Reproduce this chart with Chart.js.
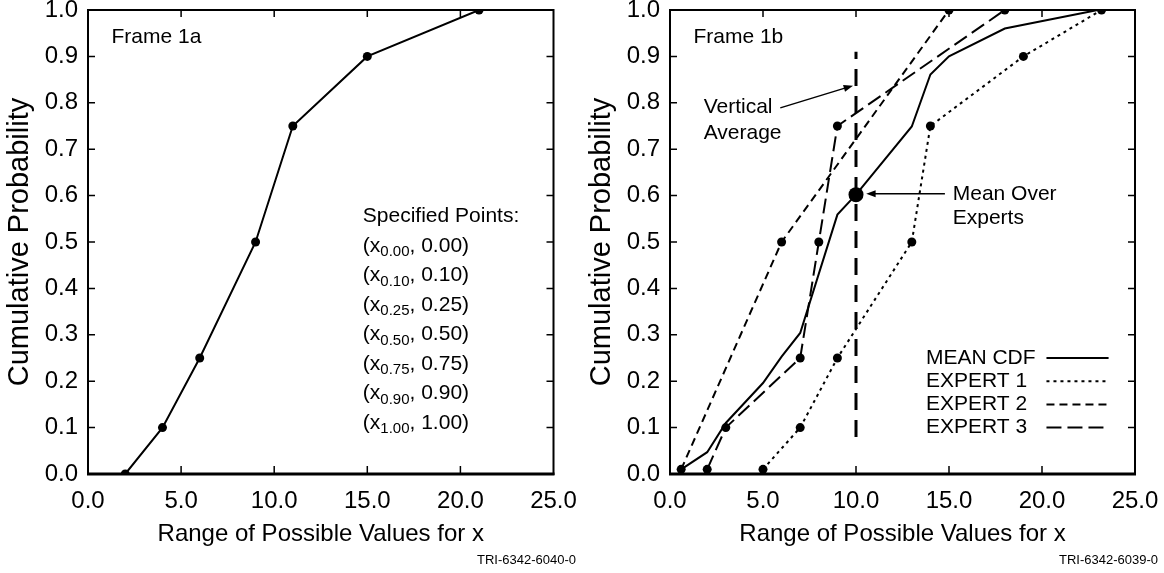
<!DOCTYPE html>
<html>
<head>
<meta charset="utf-8">
<script src="https://cdn.jsdelivr.net/npm/chart.js@4"></script>
<style>
body { margin: 0; background: #fff; width: 1164px; height: 573px; overflow: hidden; }
.box { position: absolute; top: 0; width: 582px; height: 573px; }
</style>
</head>
<body>
<div class="box" style="left:0"><canvas id="frame1a"></canvas></div>
<div class="box" style="left:582px"><canvas id="frame1b"></canvas></div>
<script>
var xTicks = [0, 5, 10, 15, 20, 25]
var yTicks = [0, 0.1, 0.2, 0.3, 0.4, 0.5, 0.6, 0.7, 0.8, 0.9, 1.0]

// Frame 1a: the specified quantile points
var pointX = [2, 4, 6, 9, 11, 15, 21]
var pointY = [0, 0.1, 0.25, 0.5, 0.75, 0.9, 1.0]
var quantiles = ['0.00', '0.10', '0.25', '0.50', '0.75', '0.90', '1.00']

// Frame 1b: three experts and the mean CDF
var meanX = [0.6, 2, 3, 5, 6, 7, 9, 10, 13, 14, 15, 18, 23]
var meanY = [0.01, 0.047, 0.11, 0.196, 0.253, 0.304, 0.559, 0.602, 0.749, 0.861, 0.9, 0.96, 1.0]
var expert1X = [5, 7, 9, 13, 14, 19, 23.2]
var expert1Y = [0.01, 0.1, 0.25, 0.5, 0.75, 0.9, 1.0]
var expert2X = [0.6, 6, 15]
var expert2Y = [0.01, 0.5, 1.0]
var expert3X = [2, 3, 7, 8, 9, 18]
var expert3Y = [0.01, 0.1, 0.25, 0.5, 0.75, 1.0]
var vertX = [10, 10]
var vertY = [0.08, 0.91]

var FONT = "'Liberation Sans', Arial, Helvetica, sans-serif"

function xy(xs, ys) {
    return xs.map(function (x, i) { return { x: x, y: ys[i] } })
}

function noPad(s) {
    s.paddingTop = 0; s.paddingBottom = 0; s.paddingLeft = 0; s.paddingRight = 0
}

function makeScales() {
    return {
        x: {
            type: 'linear', min: 0, max: 25,
            afterBuildTicks: function (s) { s.ticks = xTicks.map(function (v) { return { value: v } }) },
            afterFit: function (s) { s.height = 99; noPad(s) },
            grid: { display: false, drawTicks: false },
            border: { display: false },
            ticks: {
                color: '#000', padding: 13, maxRotation: 0, autoSkip: false,
                font: { family: FONT, size: 24 },
                callback: function (v) { return v.toFixed(1) }
            },
            title: {
                display: true, text: 'Range of Possible Values for x', color: '#000',
                font: { family: FONT, size: 24 }, padding: { top: 0, bottom: 24 }
            }
        },
        y: {
            type: 'linear', min: 0, max: 1,
            afterBuildTicks: function (s) { s.ticks = yTicks.map(function (v) { return { value: v } }) },
            afterFit: function (s) { s.width = 88; noPad(s) },
            grid: { display: false, drawTicks: false },
            border: { display: false },
            ticks: {
                color: '#000', padding: 10, autoSkip: false,
                font: { family: FONT, size: 24 },
                callback: function (v) { return v.toFixed(1) }
            },
            title: {
                display: true, text: 'Cumulative Probability', color: '#000',
                font: { family: FONT, size: 29 }, padding: { top: 3, bottom: 0 }
            }
        }
    }
}

// box around the plot with inward tick marks on all four sides
var framePlugin = {
    id: 'frame',
    afterDatasetsDraw: function (chart) {
        var a = chart.chartArea, ctx = chart.ctx
        var sx = chart.scales.x, sy = chart.scales.y
        ctx.save()
        ctx.strokeStyle = '#000'
        ctx.lineWidth = 2
        ctx.strokeRect(a.left, a.top, a.right - a.left, a.bottom - a.top)
        ctx.lineWidth = 3
        ctx.beginPath()
        ctx.moveTo(a.left - 1, a.bottom)
        ctx.lineTo(a.right + 1, a.bottom)
        ctx.stroke()
        ctx.lineWidth = 1.5
        ctx.beginPath()
        xTicks.slice(1, -1).forEach(function (v) {
            var px = sx.getPixelForValue(v)
            ctx.moveTo(px, a.bottom); ctx.lineTo(px, a.bottom - 8)
            ctx.moveTo(px, a.top); ctx.lineTo(px, a.top + 7)
        })
        yTicks.slice(1, -1).forEach(function (v) {
            var py = sy.getPixelForValue(v)
            ctx.moveTo(a.left, py); ctx.lineTo(a.left + 7, py)
            ctx.moveTo(a.right, py); ctx.lineTo(a.right - 7, py)
        })
        ctx.stroke()
        ctx.restore()
    }
}

function arrow(ctx, x1, y1, x2, y2) {
    var ang = Math.atan2(y2 - y1, x2 - x1)
    ctx.beginPath()
    ctx.moveTo(x1, y1)
    ctx.lineTo(x2 - 6 * Math.cos(ang), y2 - 6 * Math.sin(ang))
    ctx.stroke()
    ctx.beginPath()
    ctx.moveTo(x2, y2)
    ctx.lineTo(x2 - 10 * Math.cos(ang - 0.35), y2 - 10 * Math.sin(ang - 0.35))
    ctx.lineTo(x2 - 10 * Math.cos(ang + 0.35), y2 - 10 * Math.sin(ang + 0.35))
    ctx.closePath()
    ctx.fill()
}

function tagText(chart, txt) {
    var ctx = chart.ctx
    ctx.font = '13px ' + FONT
    ctx.textAlign = 'right'
    ctx.textBaseline = 'middle'
    ctx.fillText(txt, chart.width - 6, 560)
}

var notes1a = {
    id: 'notes1a',
    afterDraw: function (chart) {
        var ctx = chart.ctx, sx = chart.scales.x, sy = chart.scales.y
        ctx.save()
        ctx.fillStyle = '#000'
        ctx.textBaseline = 'middle'
        ctx.textAlign = 'left'
        ctx.font = '21px ' + FONT
        ctx.fillText('Frame 1a', sx.getPixelForValue(1.26), sy.getPixelForValue(0.942))
        var x0 = sx.getPixelForValue(14.76)
        var y0 = sy.getPixelForValue(0.555)
        ctx.fillText('Specified Points:', x0, y0)
        quantiles.forEach(function (q, i) {
            var y = y0 + 29.5 * (i + 1)
            var x = x0
            ctx.font = '21px ' + FONT
            ctx.fillText('(x', x, y)
            x += ctx.measureText('(x').width
            ctx.font = '15px ' + FONT
            ctx.fillText(q, x, y + 6)
            x += ctx.measureText(q).width
            ctx.font = '21px ' + FONT
            ctx.fillText(', ' + q + ')', x, y)
        })
        tagText(chart, 'TRI-6342-6040-0')
        ctx.restore()
    }
}

var notes1b = {
    id: 'notes1b',
    afterDraw: function (chart) {
        var ctx = chart.ctx, sx = chart.scales.x, sy = chart.scales.y
        ctx.save()
        ctx.fillStyle = '#000'
        ctx.strokeStyle = '#000'
        ctx.textBaseline = 'middle'
        ctx.textAlign = 'left'
        ctx.font = '21px ' + FONT
        ctx.fillText('Frame 1b', sx.getPixelForValue(1.26), sy.getPixelForValue(0.942))
        ctx.fillText('Vertical', sx.getPixelForValue(1.81), sy.getPixelForValue(0.791))
        ctx.fillText('Average', sx.getPixelForValue(1.81), sy.getPixelForValue(0.735))
        ctx.fillText('Mean Over', sx.getPixelForValue(15.2), sy.getPixelForValue(0.604))
        ctx.fillText('Experts', sx.getPixelForValue(15.2), sy.getPixelForValue(0.552))
        ctx.lineWidth = 1.5
        arrow(ctx, sx.getPixelForValue(5.93), sy.getPixelForValue(0.789),
            sx.getPixelForValue(9.84), sy.getPixelForValue(0.837))
        arrow(ctx, sx.getPixelForValue(14.78), sy.getPixelForValue(0.604),
            sx.getPixelForValue(10.55), sy.getPixelForValue(0.604))

        // legend: label on the left, line sample on the right
        var rows = [0.25, 0.2, 0.15, 0.1]
        chart.data.datasets.slice(0, 4).forEach(function (ds, i) {
            var y = sy.getPixelForValue(rows[i])
            ctx.font = '21px ' + FONT
            ctx.fillText(ds.label, sx.getPixelForValue(13.76), y)
            ctx.save()
            ctx.lineWidth = ds.borderWidth
            ctx.setLineDash(ds.borderDash || [])
            ctx.beginPath()
            ctx.moveTo(sx.getPixelForValue(20.24), y)
            ctx.lineTo(sx.getPixelForValue(23.58), y)
            ctx.stroke()
            ctx.restore()
        })
        tagText(chart, 'TRI-6342-6039-0')
        ctx.restore()
    }
}

var common = {
    responsive: false,
    animation: false,
    layout: { padding: { top: 10, right: 28.5, left: 0, bottom: 0 } },
    plugins: { legend: { display: false }, tooltip: { enabled: false } }
}

var c1 = document.getElementById('frame1a')
c1.width = 582; c1.height = 573
new Chart(c1, {
    type: 'scatter',
    data: {
        datasets: [{
            label: 'CDF',
            data: xy(pointX, pointY),
            showLine: true,
            borderColor: '#000', backgroundColor: '#000',
            borderWidth: 2, pointRadius: 4.5, pointBorderWidth: 0
        }]
    },
    options: Object.assign({}, common, { scales: makeScales() }),
    plugins: [framePlugin, notes1a]
})

var c2 = document.getElementById('frame1b')
c2.width = 582; c2.height = 573
var opts2 = Object.assign({}, common, { scales: makeScales() })
opts2.layout = { padding: { top: 10, right: 29, left: 0, bottom: 0 } }
new Chart(c2, {
    type: 'scatter',
    data: {
        datasets: [
            {
                label: 'MEAN CDF',
                data: xy(meanX, meanY),
                showLine: true, borderColor: '#000', backgroundColor: '#000', borderWidth: 2,
                pointBorderWidth: 0,
                pointRadius: meanX.map(function (x) { return x === 10 ? 7.5 : 0 })
            },
            {
                label: 'EXPERT 1',
                data: xy(expert1X, expert1Y),
                showLine: true, borderColor: '#000', backgroundColor: '#000', borderWidth: 2,
                borderDash: [3, 4], pointRadius: 4.5, pointBorderWidth: 0
            },
            {
                label: 'EXPERT 2',
                data: xy(expert2X, expert2Y),
                showLine: true, borderColor: '#000', backgroundColor: '#000', borderWidth: 2,
                borderDash: [8, 5], pointRadius: 4.5, pointBorderWidth: 0
            },
            {
                label: 'EXPERT 3',
                data: xy(expert3X, expert3Y),
                showLine: true, borderColor: '#000', backgroundColor: '#000', borderWidth: 2,
                borderDash: [15, 6], pointRadius: 4.5, pointBorderWidth: 0
            },
            {
                label: 'vertical average',
                data: xy(vertX, vertY),
                showLine: true, borderColor: '#000', borderWidth: 3,
                borderDash: [17, 10], pointRadius: 0
            }
        ]
    },
    options: opts2,
    plugins: [framePlugin, notes1b]
})
</script>
</body>
</html>
